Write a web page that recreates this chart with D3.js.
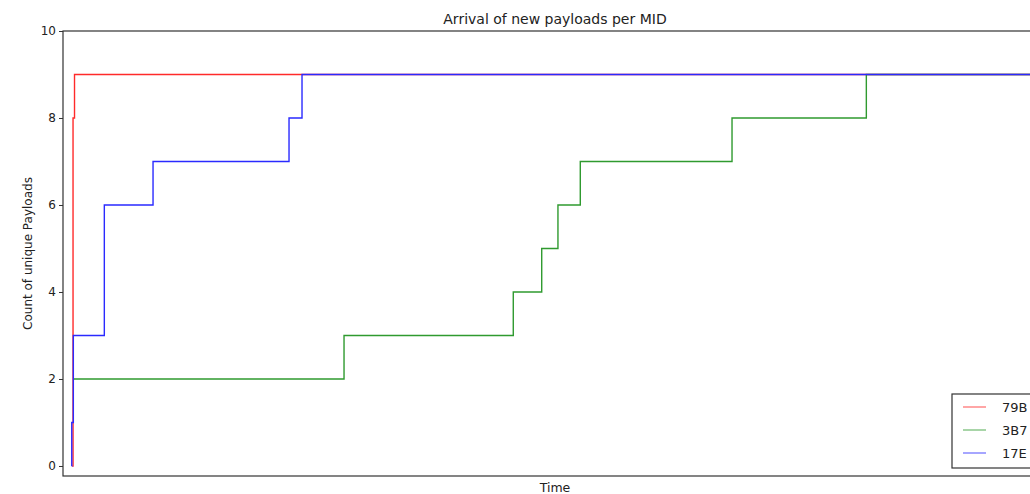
<!DOCTYPE html>
<html>
<head>
<meta charset="utf-8">
<script src="https://cdn.jsdelivr.net/npm/d3@7"></script>
<style>
  html, body { margin: 0; padding: 0; background: #fff; }
  svg { display: block; font-family: "DejaVu Sans", sans-serif; }
</style>
</head>
<body>
<svg id="chart" width="1030" height="494"></svg>
<script>
// Arrival times (arbitrary time units) and cumulative unique payload counts per MID
const seriesNames = ["79B", "3B7", "17E"];
const seriesColors = ["#ff2a2a", "#2f9a2f", "#2a2aff"];

const times79B = [9.3, 10.2, 11.7, 1000];
const counts79B = [0, 8, 9, 9];

const times3B7 = [10.5, 285.6, 457.6, 486.5, 503.0, 525.7, 679.9, 816.4, 1000];
const counts3B7 = [2, 3, 4, 5, 6, 7, 8, 9, 9];

const times17E = [8.8, 8.9, 10.5, 42.0, 91.5, 229.7, 242.9, 1000];
const counts17E = [0, 1, 3, 6, 7, 8, 9, 9];

const yTicks = [0, 2, 4, 6, 8, 10];

const svg = d3.select("#chart");
const plotLeft = 63, plotRight = 1047, plotTop = 31, plotBottom = 476;

const x = d3.scaleLinear().domain([0, 1000]).range([plotLeft, plotRight]);
const y = d3.scaleLinear().domain([-0.23, 10]).range([plotBottom, plotTop]);

svg.append("defs").append("clipPath").attr("id", "plotClip")
  .append("rect").attr("x", plotLeft).attr("y", plotTop)
  .attr("width", plotRight - plotLeft).attr("height", plotBottom - plotTop);

// Step lines
const line = d3.line()
  .x(d => x(d[0]))
  .y(d => y(d[1]))
  .curve(d3.curveStepAfter);

const series = [
  { times: times79B, counts: counts79B },
  { times: times3B7, counts: counts3B7 },
  { times: times17E, counts: counts17E }
];

const plot = svg.append("g").attr("clip-path", "url(#plotClip)");
series.forEach((s, i) => {
  const pts = s.times.map((t, j) => [t, s.counts[j]]);
  plot.append("path")
    .datum(pts)
    .attr("fill", "none")
    .attr("stroke", seriesColors[i])
    .attr("stroke-width", 1.4)
    .attr("d", line);
});

// Y axis ticks and labels
const yAxis = d3.axisLeft(y).tickValues(yTicks).tickSize(4).tickPadding(3)
  .tickFormat(d3.format("d"));
const gy = svg.append("g").attr("transform", `translate(${plotLeft},0)`).call(yAxis);
gy.select(".domain").remove();
gy.selectAll(".tick line").attr("stroke", "#333");
gy.selectAll(".tick text").attr("font-size", 12).attr("fill", "#222")
  .attr("font-family", "DejaVu Sans, sans-serif");

// Frame
svg.append("rect")
  .attr("x", plotLeft).attr("y", plotTop)
  .attr("width", plotRight - plotLeft).attr("height", plotBottom - plotTop)
  .attr("fill", "none").attr("stroke", "#333").attr("stroke-width", 1.2);

// Title and axis labels
svg.append("text")
  .attr("x", (plotLeft + plotRight) / 2).attr("y", 24)
  .attr("text-anchor", "middle").attr("font-size", 14).attr("fill", "#222")
  .text("Arrival of new payloads per MID");

svg.append("text")
  .attr("x", (plotLeft + plotRight) / 2).attr("y", 492)
  .attr("text-anchor", "middle").attr("font-size", 12.5).attr("fill", "#222")
  .text("Time");

svg.append("text")
  .attr("transform", `translate(32,${(plotTop + plotBottom) / 2}) rotate(-90)`)
  .attr("text-anchor", "middle").attr("font-size", 12).attr("fill", "#222")
  .text("Count of unique Payloads");

// Legend
const legend = svg.append("g").attr("transform", "translate(952,394)");
legend.append("rect")
  .attr("x", 0).attr("y", 0).attr("width", 120).attr("height", 74)
  .attr("fill", "#fff").attr("stroke", "#333").attr("stroke-width", 1.2);
seriesNames.forEach((name, i) => {
  const ly = 13 + i * 23;
  legend.append("line")
    .attr("x1", 11).attr("x2", 34).attr("y1", ly).attr("y2", ly)
    .attr("stroke", seriesColors[i]).attr("stroke-opacity", 0.6).attr("stroke-width", 1.4);
  legend.append("text")
    .attr("x", 50).attr("y", ly + 5)
    .attr("font-size", 13).attr("fill", "#222")
    .text(name);
});
</script>
</body>
</html>
